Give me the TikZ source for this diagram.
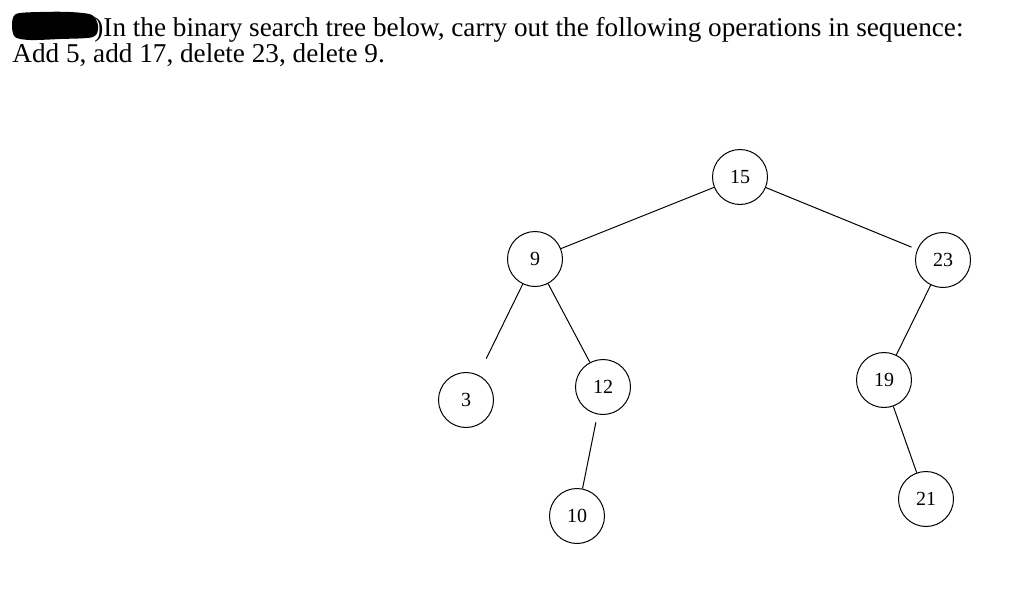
\documentclass[tikz,border=0pt]{standalone}
\usepackage{fontspec}
\setmainfont{Liberation Serif}
\usepackage{tikz}

\begin{document}
\begin{tikzpicture}[x=0.5pt, y=-0.5pt,
        key/.style={draw, circle, line width=0.5pt, minimum size=27.5pt, inner sep=0pt,
            font=\fontsize{10}{12}\selectfont},
        edge/.style={line width=0.5pt}]
        \useasboundingbox (0,0) rectangle (1024,594);

        % the question
        \fill[black] plot[smooth cycle] coordinates {(16,14) (40,12) (70,12) (92,15) (98,26) (93,37) (60,39) (30,40) (15,37) (12,25)};
        \node[anchor=base west, inner sep=0pt, font=\fontsize{13.6}{12}\selectfont] (q1) at (94,36)
            {)In the binary search tree below, carry out the following operations in sequence:};
        \node[anchor=base west, inner sep=0pt, font=\fontsize{13.6}{12}\selectfont] (q2) at (12,62)
            {Add 5, add 17, delete 23, delete 9.};

        % the tree
        \coordinate (p15) at (740,177);
        \coordinate (p9) at (535,259);
        \coordinate (p23) at (943,260);
        \coordinate (p3) at (466,400);
        \coordinate (p12) at (603,387);
        \coordinate (p19) at (884,380);
        \coordinate (p10) at (577,516);
        \coordinate (p21) at (926,499);

        \node[key] (n15) at (p15) {15};
        \node[key] (n9) at (p9) {9};
        \node[key] (n23) at (p23) {23};
        \node[key] (n3) at (p3) {3};
        \node[key] (n12) at (p12) {12};
        \node[key] (n19) at (p19) {19};
        \node[key] (n10) at (p10) {10};
        \node[key] (n21) at (p21) {21};

        \draw[edge] (n15)--(n9);
        \draw[edge, shorten >=3pt] (n15)--(n23);
        \draw[edge, shorten >=9pt] (n9)--(n3);
        \draw[edge] (n9)--(n12);
        \draw[edge] (n23)--(n19);
        \draw[edge, shorten <=4pt] (n12)--(n10);
        \draw[edge] (n19)--(n21);

    \end{tikzpicture}
\end{document}
